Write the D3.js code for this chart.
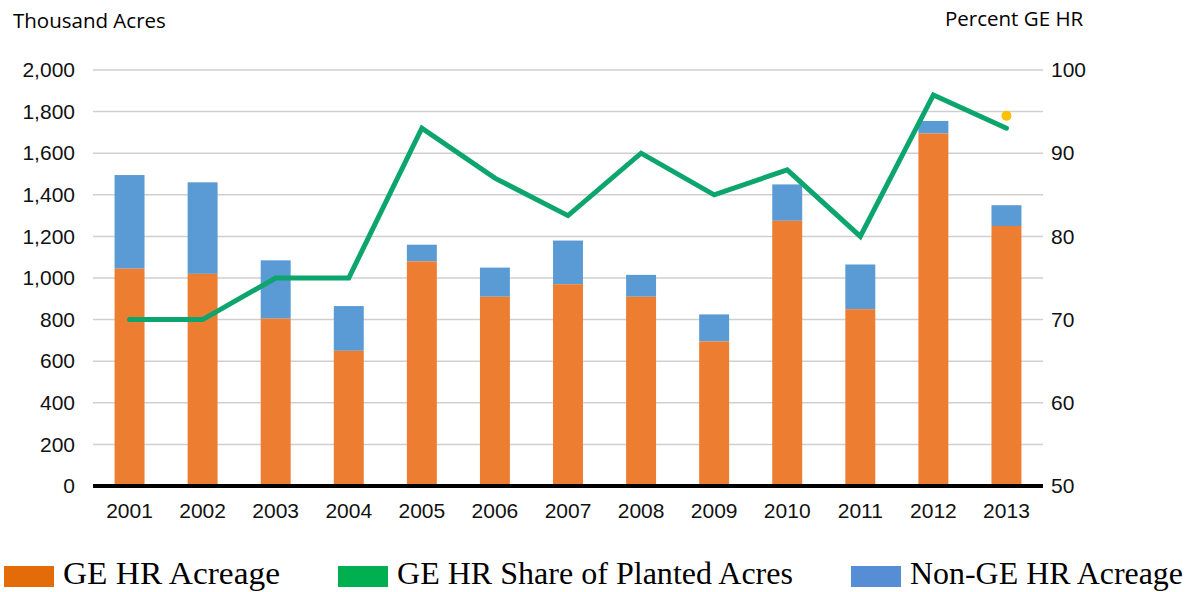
<!DOCTYPE html>
<html>
<head>
<meta charset="utf-8">
<script src="https://cdn.jsdelivr.net/npm/d3@7"></script>
<style>
  body { margin: 0; background: #fff; }
  .tick text { font-family: "Liberation Sans", Arial, sans-serif; font-size: 21px; fill: #111; }
  .title { font-family: "Open Sans", sans-serif; font-size: 20.5px; fill: #000; }
  .legend text { font-family: "Liberation Serif", "Times New Roman", serif; font-size: 31px; fill: #000; }
</style>
</head>
<body>
<div id="chart"></div>
<script>
// data
const years = ["2001","2002","2003","2004","2005","2006","2007","2008","2009","2010","2011","2012","2013"];
const geAcreage = [1045, 1020, 805, 650, 1080, 910, 970, 910, 695, 1275, 850, 1695, 1250];
const totalAcreage = [1495, 1460, 1085, 865, 1160, 1050, 1180, 1015, 825, 1450, 1065, 1755, 1350];
const geShare = [70, 70, 75, 75, 93, 87, 82.5, 90, 85, 88, 80, 97, 93];
const extraPoint = { year: "2013", value: 94.5 };
const leftTicks = [0, 200, 400, 600, 800, 1000, 1200, 1400, 1600, 1800, 2000];
const rightTicks = [50, 60, 70, 80, 90, 100];

const width = 1200, height = 592;
const margin = { top: 70, right: 157, bottom: 106, left: 93 };
const innerW = width - margin.left - margin.right;
const innerH = height - margin.top - margin.bottom;

const svg = d3.select("#chart").append("svg")
    .attr("width", width)
    .attr("height", height);

const g = svg.append("g")
    .attr("transform", `translate(${margin.left},${margin.top})`);

const x = d3.scaleBand().domain(years).range([0, innerW]).paddingInner(0.59).paddingOuter(0.295);
const yL = d3.scaleLinear().domain([0, 2000]).range([innerH, 0]);
const yR = d3.scaleLinear().domain([50, 100]).range([innerH, 0]);

// gridlines
g.selectAll(".grid")
    .data(leftTicks.slice(1))
    .join("line")
    .attr("class", "grid")
    .attr("x1", 0).attr("x2", innerW)
    .attr("y1", d => yL(d)).attr("y2", d => yL(d))
    .attr("stroke", "#cfcfcf")
    .attr("stroke-width", 1.5);

// bars: orange bottom, blue top
const rows = years.map((y, i) => ({ year: y, ge: geAcreage[i], total: totalAcreage[i] }));

g.selectAll(".nonge")
    .data(rows)
    .join("rect")
    .attr("class", "nonge")
    .attr("x", d => x(d.year))
    .attr("width", x.bandwidth())
    .attr("y", d => yL(d.total))
    .attr("height", d => yL(d.ge) - yL(d.total))
    .attr("fill", "#5B9BD5");

g.selectAll(".ge")
    .data(rows)
    .join("rect")
    .attr("class", "ge")
    .attr("x", d => x(d.year))
    .attr("width", x.bandwidth())
    .attr("y", d => yL(d.ge))
    .attr("height", d => innerH - yL(d.ge))
    .attr("fill", "#ED7D31");

// share line
const line = d3.line()
    .x((d, i) => x(years[i]) + x.bandwidth() / 2)
    .y(d => yR(d));

g.append("path")
    .datum(geShare)
    .attr("d", line)
    .attr("fill", "none")
    .attr("stroke", "#0DA56E")
    .attr("stroke-width", 5)
    .attr("stroke-linejoin", "miter")
    .attr("stroke-linecap", "round");

g.append("circle")
    .attr("cx", x(extraPoint.year) + x.bandwidth() / 2)
    .attr("cy", yR(extraPoint.value))
    .attr("r", 5)
    .attr("fill", "#FFC000");

// baseline
g.append("line")
    .attr("x1", 0).attr("x2", innerW)
    .attr("y1", innerH).attr("y2", innerH)
    .attr("stroke", "#000")
    .attr("stroke-width", 4);

// axes
const leftAxis = d3.axisLeft(yL).tickValues(leftTicks).tickSize(0).tickPadding(18)
    .tickFormat(d3.format(","));
g.append("g").attr("class", "axis y-left").call(leftAxis)
    .call(a => a.select(".domain").remove());

const rightAxis = d3.axisRight(yR).tickValues(rightTicks).tickSize(0).tickPadding(8);
g.append("g").attr("class", "axis y-right")
    .attr("transform", `translate(${innerW},0)`)
    .call(rightAxis)
    .call(a => a.select(".domain").remove());

const bottomAxis = d3.axisBottom(x).tickSize(0).tickPadding(17);
g.append("g").attr("class", "axis x-axis")
    .attr("transform", `translate(0,${innerH})`)
    .call(bottomAxis)
    .call(a => a.select(".domain").remove());

// titles
svg.append("text").attr("class", "title").attr("x", 13).attr("y", 28).text("Thousand Acres");
svg.append("text").attr("class", "title").attr("x", 945).attr("y", 26).text("Percent GE HR");

// legend
const legendItems = [
    { label: "GE HR Acreage", color: "#E36C09", x: 4, len: 217 },
    { label: "GE HR Share of Planted Acres", color: "#00B050", x: 338, len: 396 },
    { label: "Non-GE HR Acreage", color: "#558ED5", x: 851, len: 273 }
];
const legend = svg.append("g").attr("class", "legend");
legendItems.forEach(d => {
    legend.append("rect")
        .attr("x", d.x).attr("y", 566)
        .attr("width", 50).attr("height", 21)
        .attr("fill", d.color);
    legend.append("text")
        .attr("x", d.x + 59).attr("y", 584)
        .attr("textLength", d.len)
        .attr("lengthAdjust", "spacingAndGlyphs")
        .text(d.label);
});
</script>
</body>
</html>
